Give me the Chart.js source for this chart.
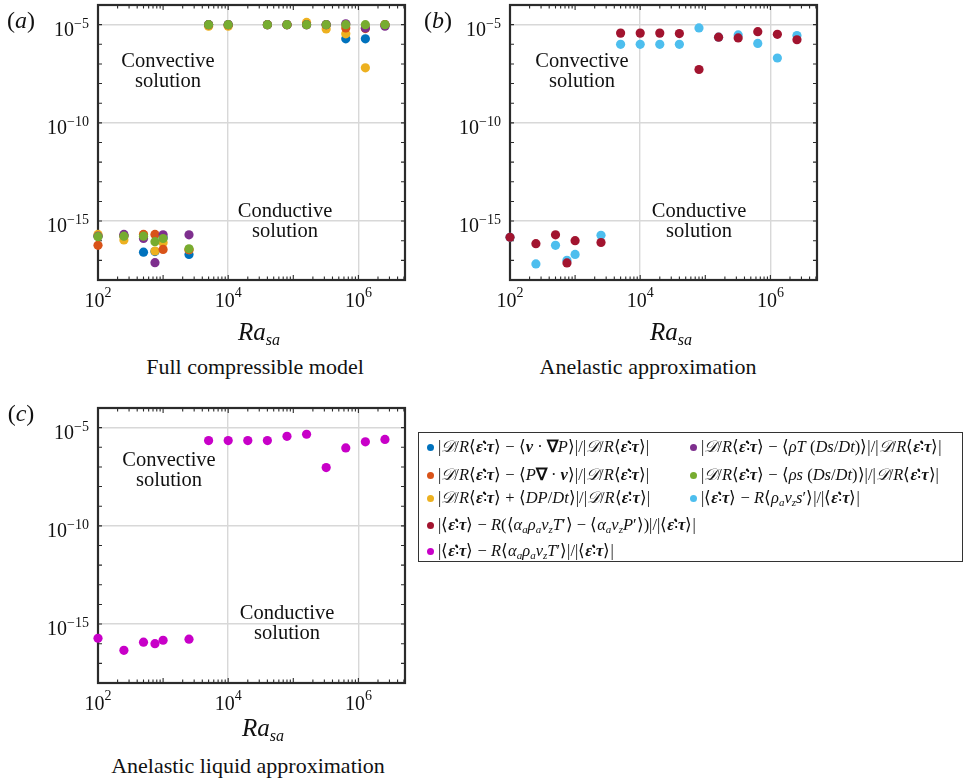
<!DOCTYPE html>
<html>
<head>
<meta charset="utf-8">
<script src="https://cdn.jsdelivr.net/npm/chart.js@4.4.0/dist/chart.umd.min.js"></script>
<style>
  body { margin:0; background:#fff; width:965px; height:778px; position:relative; overflow:hidden;
         font-family:'Liberation Serif','Times New Roman',serif; color:#111; }
  canvas { position:absolute; }
  .t { position:absolute; white-space:nowrap; transform:translate(-50%,-50%); line-height:1; }
  .ann { font-size:20.5px; line-height:20px; text-align:center; }
  .cap { font-size:22px; }
  .ra { font-size:25px; font-style:italic; }
  .ra sub { font-size:16px; vertical-align:-5px; }
  .pl { font-size:24px; }
  #legend { position:absolute; left:418px; top:432px; width:545px; height:130px; border:1px solid #333; box-sizing:border-box; }
  .li { position:absolute; white-space:nowrap; font-size:16.5px; line-height:18px; }
  .li .dot { display:inline-block; width:7px; height:7px; border-radius:50%; margin-right:4px; vertical-align:1px; }
  .li b { font-weight:bold; }
  .li sub { font-size:11px; vertical-align:-3px; line-height:0; }
</style>
</head>
<body>
<canvas id="ca" width="420" height="310" style="left:0;top:0"></canvas>
<canvas id="cb" width="420" height="310" style="left:412px;top:0"></canvas>
<canvas id="cc" width="420" height="310" style="left:0;top:403px"></canvas>

<div class="t pl" style="left:21px;top:20px">(<i>a</i>)</div>
<div class="t pl" style="left:438px;top:20px">(<i>b</i>)</div>
<div class="t pl" style="left:21px;top:413px">(<i>c</i>)</div>

<div class="t ann" style="left:168px;top:70px">Convective<br>solution</div>
<div class="t ann" style="left:285px;top:220px">Conductive<br>solution</div>
<div class="t ann" style="left:582px;top:70px">Convective<br>solution</div>
<div class="t ann" style="left:699px;top:220px">Conductive<br>solution</div>
<div class="t ann" style="left:169px;top:469px">Convective<br>solution</div>
<div class="t ann" style="left:287px;top:622px">Conductive<br>solution</div>

<div class="t ra" style="left:259px;top:333px">Ra<sub>sa</sub></div>
<div class="t ra" style="left:671px;top:333px">Ra<sub>sa</sub></div>
<div class="t ra" style="left:263px;top:729px">Ra<sub>sa</sub></div>

<div class="t cap" style="left:255px;top:367px">Full compressible model</div>
<div class="t cap" style="left:648px;top:367px">Anelastic approximation</div>
<div class="t cap" style="left:248px;top:766px">Anelastic liquid approximation</div>

<div id="legend"></div>

<script>
// Rayleigh numbers used in all runs
const ra = [100, 250, 500, 750, 1000, 2500, 5000, 1e4, 2e4, 4e4, 8e4, 1.6e5, 3.2e5, 6.4e5, 1.28e6, 2.56e6];

// (a) full compressible model (no run at 2e4)
const aBlue   = [1.8e-16, 1.8e-16, 2.6e-17, 2.8e-17, 1.4e-16, 2.0e-17, 1e-5, 1e-5, null, 1e-5, 1e-5, 1e-5, 1e-5, 1.9e-6, 1.9e-6, 1e-5];
const aOrange = [5.8e-17, 1.8e-16, 2.1e-16, 2.1e-16, 3.6e-17, 3.5e-17, 1e-5, 1e-5, null, 1e-5, 1e-5, 1e-5, 1e-5, 6.8e-6, 6.3e-6, 1e-5];
const aYellow = [2.1e-16, 1.1e-16, 2.0e-16, 3.0e-17, 7.9e-17, 3.5e-17, 8.3e-6, 8.3e-6, null, 1e-5, 1e-5, 1.3e-5, 6.0e-6, 3.4e-6, 6.3e-8, 1e-5];
const aPurple = [1.7e-16, 2.1e-16, 1.3e-16, 7.6e-18, 2.0e-16, 2.0e-16, 1e-5, 1e-5, null, 1e-5, 1e-5, 1e-5, 1e-5, 1.1e-5, 6.8e-6, 8.3e-6];
const aGreen  = [1.6e-16, 1.7e-16, 1.7e-16, 8.9e-17, 1.3e-16, 3.9e-17, 1e-5, 1e-5, null, 1e-5, 1e-5, 1e-5, 1e-5, 1e-5, 1e-5, 1e-5];

// (b) anelastic approximation
const bRed  = [1.5e-16, 7.1e-17, 2.0e-16, 7.4e-18, 1.0e-16, 8.1e-17, 3.7e-6, 3.7e-6, 3.7e-6, 3.5e-6, 5.2e-8, 2.3e-6, 2.1e-6, 4.4e-6, 3.2e-6, 1.7e-6];
const bCyan = [1.5e-16, 6.6e-18, 5.8e-17, 1.0e-17, 2.0e-17, 1.9e-16, 1.0e-6, 1.0e-6, 1.0e-6, 1.0e-6, 6.8e-6, 2.3e-6, 3.0e-6, 1.1e-6, 2.0e-7, 2.8e-6];

// (c) anelastic liquid approximation
const cMag = [1.9e-16, 4.6e-17, 1.2e-16, 1.0e-16, 1.5e-16, 1.7e-16, 2.2e-6, 2.2e-6, 2.2e-6, 2.2e-6, 3.6e-6, 4.6e-6, 9.3e-8, 9.3e-7, 1.9e-6, 2.5e-6];

const xTickVals = [1e2, 1e4, 1e6];
const yTickVals = [1e-15, 1e-10, 1e-5];

const col = {
  blue: '#0072BD', orange: '#D95319', yellow: '#EDB120', purple: '#7E2F8E',
  green: '#77AC30', cyan: '#4DBEEE', red: '#A2142F', mag: '#C800C8'
};

function expOf(v) {
  return String(Math.round(Math.log10(v))).replace('-', '\u2212');
}

function series(ys) {
  return ra.map((x, i) => ({ x: x, y: ys[i] })).filter(p => p.y !== null);
}

function ds(ys, color, order) {
  return {
    data: series(ys),
    backgroundColor: color,
    borderWidth: 0,
    pointRadius: 4.6,
    pointHoverRadius: 4.6,
    clip: false,
    order: order
  };
}

const BASE = '20px "Liberation Serif"';
const SUP = '14px "Liberation Serif"';

// frame, inward minor ticks and 10^n labels
const framePlugin = {
  id: 'frame',
  beforeDatasetsDraw(chart) {
    const { ctx, chartArea: a, scales } = chart;
    const x = scales.x, y = scales.y;
    ctx.save();
    ctx.strokeStyle = '#2b2b2b';
    ctx.lineWidth = 1.1;
    ctx.beginPath();
    for (let n = 2; n <= 6; n++) {
      for (let k = 1; k <= 9; k++) {
        const v = k * Math.pow(10, n);
        if (v <= x.min || v >= x.max) continue;
        const px = x.getPixelForValue(v);
        const len = k === 1 ? 5 : 3.5;
        ctx.moveTo(px, a.bottom); ctx.lineTo(px, a.bottom - len);
        ctx.moveTo(px, a.top); ctx.lineTo(px, a.top + len);
      }
    }
    for (let n = -17; n <= -5; n++) {
      const py = y.getPixelForValue(Math.pow(10, n));
      ctx.moveTo(a.left, py); ctx.lineTo(a.left + 4, py);
      ctx.moveTo(a.right, py); ctx.lineTo(a.right - 4, py);
    }
    ctx.stroke();
    ctx.lineWidth = 2.2;
    ctx.strokeRect(a.left, a.top, a.right - a.left, a.bottom - a.top);

    ctx.fillStyle = '#111';
    ctx.textBaseline = 'alphabetic';
    ctx.textAlign = 'left';
    xTickVals.forEach(v => {
      const px = x.getPixelForValue(v);
      const e = expOf(v);
      ctx.font = BASE; const w1 = ctx.measureText('10').width;
      ctx.font = SUP;  const w2 = ctx.measureText(e).width;
      const x0 = px - (w1 + w2) / 2;
      ctx.font = BASE; ctx.fillText('10', x0, a.bottom + 27);
      ctx.font = SUP;  ctx.fillText(e, x0 + w1, a.bottom + 17);
    });
    yTickVals.forEach(v => {
      const py = y.getPixelForValue(v);
      const e = expOf(v);
      ctx.font = BASE; const w1 = ctx.measureText('10').width;
      ctx.font = SUP;  const w2 = ctx.measureText(e).width;
      const x0 = a.left - 9 - w1 - w2;
      ctx.font = BASE; ctx.fillText('10', x0, py + 11);
      ctx.font = SUP;  ctx.fillText(e, x0 + w1, py + 3);
    });
    ctx.restore();
  }
};

function makePanel(id, datasets) {
  return new Chart(document.getElementById(id), {
    type: 'scatter',
    data: { datasets: datasets },
    plugins: [framePlugin],
    options: {
      responsive: false,
      animation: false,
      devicePixelRatio: 1,
      layout: { autoPadding: false, padding: { top: 5, right: 15, left: 0, bottom: 0 } },
      plugins: { legend: { display: false }, tooltip: { enabled: false } },
      scales: {
        x: {
          type: 'logarithmic',
          min: 100, max: 5.2e6,
          afterBuildTicks: s => { s.ticks = xTickVals.map(v => ({ value: v, major: true })); },
          afterFit: s => { s.height = 30; s.paddingLeft = 0; s.paddingRight = 0; },
          grid: { color: '#d8d8d8', lineWidth: 1.4, drawTicks: false },
          border: { display: false },
          ticks: { display: false }
        },
        y: {
          type: 'logarithmic',
          min: 1e-18, max: 1e-4,
          afterBuildTicks: s => { s.ticks = yTickVals.map(v => ({ value: v, major: true })); },
          afterFit: s => { s.width = 98; s.paddingTop = 0; s.paddingBottom = 0; },
          grid: { color: '#d8d8d8', lineWidth: 1.4, drawTicks: false },
          border: { display: false },
          ticks: { display: false }
        }
      }
    }
  });
}

makePanel('ca', [
  ds(aBlue, col.blue, 5),
  ds(aOrange, col.orange, 3),
  ds(aYellow, col.yellow, 4),
  ds(aPurple, col.purple, 2),
  ds(aGreen, col.green, 1)
]);
makePanel('cb', [
  ds(bRed, col.red, 1),
  ds(bCyan, col.cyan, 2)
]);
makePanel('cc', [
  ds(cMag, col.mag, 1)
]);

// legend (math labels as html)
const E = '⟨<b><i>ε̇</i></b>∶<b><i>τ</i></b>⟩';
const DR = '<i>𝒟</i>/<i>R</i>' + E;
const legendItems = [
  { color: col.blue,   x: 8,   y: 14,  html: '|' + DR + ' − ⟨<b><i>v</i></b> · <b>∇</b><i>P</i>⟩|/|' + DR + '|' },
  { color: col.orange, x: 8,   y: 42,  html: '|' + DR + ' − ⟨<i>P</i><b>∇</b> · <b><i>v</i></b>⟩|/|' + DR + '|' },
  { color: col.yellow, x: 8,   y: 65,  html: '|' + DR + ' + ⟨<i>DP</i>/<i>Dt</i>⟩|/|' + DR + '|' },
  { color: col.red,    x: 8,   y: 92,  html: '|' + E + ' − <i>R</i>(⟨<i>α<sub>a</sub>ρ<sub>a</sub>v<sub>z</sub>T</i>′⟩ − ⟨<i>α<sub>a</sub>v<sub>z</sub>P</i>′⟩)|/|' + E + '|' },
  { color: col.mag,    x: 8,   y: 118, html: '|' + E + ' − <i>R</i>⟨<i>α<sub>a</sub>ρ<sub>a</sub>v<sub>z</sub>T</i>′⟩|/|' + E + '|' },
  { color: col.purple, x: 271, y: 14,  html: '|' + DR + ' − ⟨<i>ρT</i> (<i>Ds</i>/<i>Dt</i>)⟩|/|' + DR + '|' },
  { color: col.green,  x: 271, y: 42,  html: '|' + DR + ' − ⟨<i>ρs</i> (<i>Ds</i>/<i>Dt</i>)⟩|/|' + DR + '|' },
  { color: col.cyan,   x: 271, y: 65,  html: '|' + E + ' − <i>R</i>⟨<i>ρ<sub>a</sub>v<sub>z</sub>s</i>′⟩|/|' + E + '|' }
];
const lg = document.getElementById('legend');
legendItems.forEach(it => {
  const d = document.createElement('div');
  d.className = 'li';
  d.style.left = it.x + 'px';
  d.style.top = (it.y - 9) + 'px';
  d.innerHTML = '<span class="dot" style="background:' + it.color + '"></span>' + it.html;
  lg.appendChild(d);
});
</script>
</body>
</html>
